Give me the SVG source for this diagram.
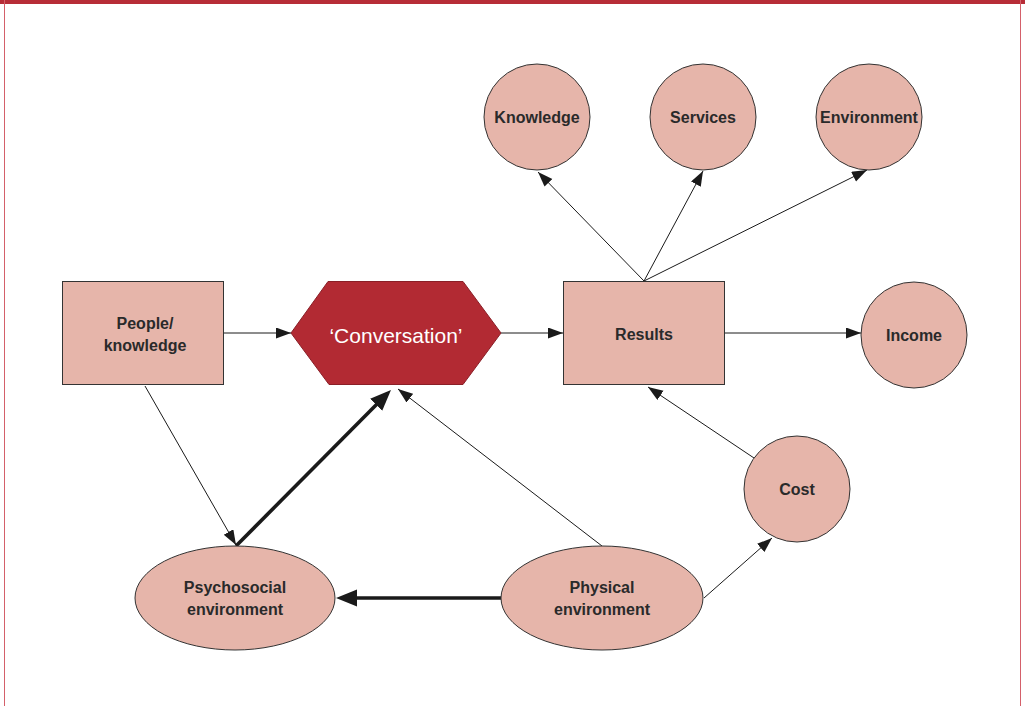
<svg xmlns="http://www.w3.org/2000/svg" width="1025" height="706" viewBox="0 0 1025 706">
<style>
.node{fill:#E6B5AA;stroke:#333;stroke-width:1}
.lbl{font-family:"Liberation Sans",Arial,sans-serif;font-weight:bold;font-size:16px;fill:#2a2a2a;text-anchor:middle}
.thin{stroke:#1a1a1a;stroke-width:1;fill:none}
.thick{stroke:#1a1a1a;stroke-width:3.6;fill:none}
</style>
<defs>
<marker id="a" markerUnits="userSpaceOnUse" markerWidth="16" markerHeight="12" refX="15" refY="5.5" orient="auto">
<path d="M0,0 L15,5.5 L0,11 z" fill="#1a1a1a"/>
</marker>
<marker id="b" markerUnits="userSpaceOnUse" markerWidth="22" markerHeight="18" refX="4" refY="8.5" orient="auto">
<path d="M0,0 L21,8.5 L0,17 z" fill="#1a1a1a"/>
</marker>
</defs>
<rect x="0" y="0" width="1025" height="706" fill="#fff"/>
<rect x="0" y="0" width="1025" height="4" fill="#B72D37"/>
<line x1="4.5" y1="0" x2="4.5" y2="706" stroke="#D4606A" stroke-width="1"/>
<line x1="1020.5" y1="0" x2="1020.5" y2="706" stroke="#D4606A" stroke-width="1"/>
<g id="connectors">
<line class="thin" x1="224" y1="333" x2="291" y2="333" marker-end="url(#a)"/>
<line class="thin" x1="501" y1="333" x2="563" y2="333" marker-end="url(#a)"/>
<line class="thin" x1="725" y1="333" x2="861" y2="333" marker-end="url(#a)"/>
<line class="thin" x1="644" y1="281" x2="538" y2="172" marker-end="url(#a)"/>
<line class="thin" x1="644" y1="281" x2="703" y2="171" marker-end="url(#a)"/>
<line class="thin" x1="644" y1="281" x2="867" y2="170" marker-end="url(#a)"/>
<line class="thin" x1="145" y1="386" x2="236" y2="545" marker-end="url(#a)"/>
<line class="thick" x1="236" y1="546" x2="379" y2="402" marker-end="url(#b)"/>
<line class="thin" x1="602" y1="546" x2="398" y2="389" marker-end="url(#a)"/>
<line class="thick" x1="501" y1="598" x2="353" y2="598" marker-end="url(#b)"/>
<line class="thin" x1="704" y1="598" x2="772" y2="538" marker-end="url(#a)"/>
<line class="thin" x1="754" y1="458" x2="648" y2="387" marker-end="url(#a)"/>
</g>
<g id="people">
<rect class="node" x="62.5" y="281.5" width="161" height="103"/>
<text class="lbl" x="145" y="329">People/</text>
<text class="lbl" x="145" y="351">knowledge</text>
</g>
<g id="conversation">
<polygon points="291,333 328,281.5 463,281.5 501,333 463,384.5 329,384.5" fill="#B22A33" stroke="#8a1f27" stroke-width="1"/>
<text x="396" y="343" font-family="Liberation Sans,Arial,sans-serif" font-size="21px" fill="#fff" text-anchor="middle">‘Conversation’</text>
</g>
<g id="results">
<rect class="node" x="563.5" y="281.5" width="161" height="103"/>
<text class="lbl" x="644" y="340">Results</text>
</g>
<g id="knowledge">
<circle class="node" cx="537" cy="117" r="53"/>
<text class="lbl" x="537" y="123">Knowledge</text>
</g>
<g id="services">
<circle class="node" cx="703" cy="117" r="53"/>
<text class="lbl" x="703" y="123">Services</text>
</g>
<g id="environment">
<circle class="node" cx="869" cy="117" r="53"/>
<text class="lbl" x="869" y="123">Environment</text>
</g>
<g id="income">
<circle class="node" cx="914" cy="335" r="53"/>
<text class="lbl" x="914" y="341">Income</text>
</g>
<g id="cost">
<circle class="node" cx="797" cy="489" r="53"/>
<text class="lbl" x="797" y="495">Cost</text>
</g>
<g id="psychosocial">
<ellipse class="node" cx="235" cy="598" rx="100" ry="52"/>
<text class="lbl" x="235" y="593">Psychosocial</text>
<text class="lbl" x="235" y="615">environment</text>
</g>
<g id="physical">
<ellipse class="node" cx="602" cy="598" rx="101" ry="52"/>
<text class="lbl" x="602" y="593">Physical</text>
<text class="lbl" x="602" y="615">environment</text>
</g>
</svg>
